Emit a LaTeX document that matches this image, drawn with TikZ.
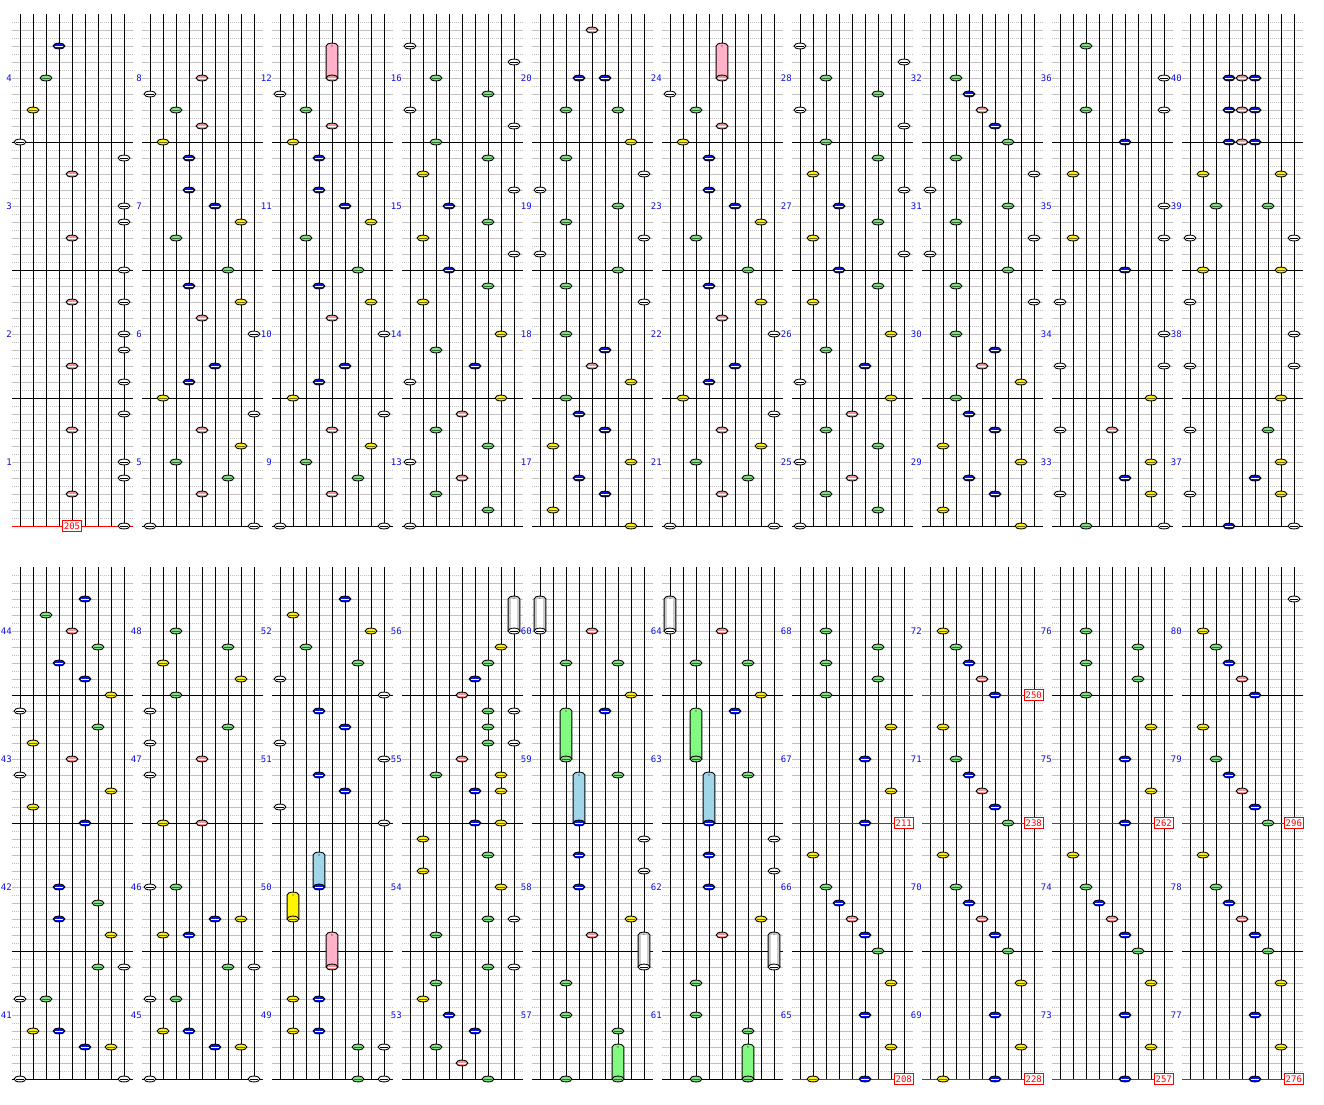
\documentclass[tikz,border=0pt]{standalone}
\usepackage{fontspec}
\newfontfamily\pixfont{DejaVu Sans Mono}
\definecolor{gl}{RGB}{192,192,192}
\definecolor{ny}{RGB}{255,240,0}
\definecolor{nys}{RGB}{110,100,0}
\definecolor{ng}{RGB}{130,225,130}
\definecolor{ngs}{RGB}{40,110,40}
\definecolor{nb}{RGB}{0,20,235}
\definecolor{nr}{RGB}{245,150,150}
\definecolor{lpink}{RGB}{255,178,200}
\definecolor{lgreen}{RGB}{130,250,130}
\definecolor{lblue}{RGB}{160,214,232}
\definecolor{lyel}{RGB}{255,245,0}
\definecolor{lgray}{RGB}{205,205,205}
\definecolor{labblue}{RGB}{10,10,235}
\tikzset{
  gdot/.style={draw=gl,line width=1pt,dash pattern=on 1pt off 1pt},
  gsol/.style={draw=gl,line width=1pt},
  mline/.style={draw=black,line width=1pt},
  laneline/.style={draw=black,line width=1pt},
  mlab/.style={anchor=east,inner sep=0pt,text=labblue,font=\pixfont\fontsize{9}{9}\selectfont},
  bpmline/.style={draw=red,line width=1pt},
  bpmbox/.style={draw=red,fill=white,line width=1pt,text=red,inner xsep=1.6pt,inner ysep=1.8pt,
     text height=6.6pt,text depth=0pt,font=\pixfont\fontsize{9}{9}\selectfont},
}
\def\PK{0}\def\RO{0}
\def\nt#1#2#3#4{%
  \path[fill=#1,draw=black,line width=0.9pt] (20+130*\PK+13*#3, \RO+526-8*#4) ellipse [x radius=5.9pt, y radius=2.9pt];
  \draw[#2,line width=0.8pt] (20+130*\PK+13*#3-3.6, \RO+526-8*#4) -- ++(7.2,0);}
\def\Wn#1#2{\nt{white}{black}{#1}{#2}}
\def\Yn#1#2{\nt{ny}{nys}{#1}{#2}}
\def\Gn#1#2{\nt{ng}{ngs}{#1}{#2}}
\def\Bn#1#2{\nt{nb}{white}{#1}{#2}}
\def\Rn#1#2{\nt{nr}{white}{#1}{#2}}
% long note: body colour, lane, head p, tail p
\def\LN#1#2#3#4{%
  \filldraw[fill=#1,line width=0.9pt] (20+130*\PK+13*#2-5.9, \RO+526-8*#3) -- (20+130*\PK+13*#2-5.9, \RO+526-8*#4)
     arc[start angle=180,end angle=0,x radius=5.9pt,y radius=2.9pt] -- (20+130*\PK+13*#2+5.9, \RO+526-8*#3) -- cycle;
  \fill[black] (20+130*\PK+13*#2, \RO+526-8*#4) circle (0.6pt);}
\def\LNW#1#2#3{%
  \LN{lgray}{#1}{#2}{#3}%
  \fill[white] (20+130*\PK+13*#1-3, \RO+526-8*#3) rectangle (20+130*\PK+13*#1+3, \RO+526-8*#2);}
\def\bpm#1{\draw[bpmline] (12+130*\PK, \RO+526-8*#1) -- ++(121,0);}
\def\bpmb#1#2{\node[bpmbox,anchor=east] (bpm#2) at (134+130*\PK, \RO+526-8*#1) {#2};}
\def\panelB{\Gn{2}{52}\Rn{4}{50}\Yn{1}{48}\Bn{3}{46}\Bn{3}{42}\Bn{5}{40}\Yn{7}{38}\Gn{2}{36}\Gn{6}{32}\Bn{3}{30}\Yn{7}{28}\Rn{4}{26}\Wn{8}{24}\Bn{5}{20}\Bn{3}{18}\Yn{1}{16}\Wn{8}{14}\Rn{4}{12}\Yn{7}{10}\Gn{2}{8}\Gn{6}{6}\Rn{4}{4}\Wn{0}{0}\Wn{8}{0}}
\def\panelC{\Wn{0}{60}\Wn{8}{58}\Gn{2}{56}\Gn{6}{54}\Wn{0}{52}\Wn{8}{50}\Gn{2}{48}\Gn{6}{46}\Yn{1}{44}\Wn{8}{42}\Bn{3}{40}\Gn{6}{38}\Yn{1}{36}\Wn{8}{34}\Bn{3}{32}\Gn{6}{30}\Yn{1}{28}\Yn{7}{24}\Gn{2}{22}\Bn{5}{20}\Wn{0}{18}\Yn{7}{16}\Rn{4}{14}\Gn{2}{12}\Gn{6}{10}\Wn{0}{8}\Rn{4}{6}\Gn{2}{4}\Gn{6}{2}\Wn{0}{0}}
\def\panelLow{\Gn{2}{24}\Bn{5}{22}\Rn{4}{20}\Yn{7}{18}\Gn{2}{16}\Bn{3}{14}\Bn{5}{12}\Yn{1}{10}\Yn{7}{8}\Bn{3}{6}\Bn{5}{4}\Yn{1}{2}\Yn{7}{0}}
\def\panelUp{\Gn{2}{46}\Wn{8}{44}\Wn{0}{42}\Gn{6}{40}\Gn{2}{38}\Wn{8}{36}\Wn{0}{34}\Gn{6}{32}\Gn{2}{30}\Wn{8}{28}}
\def\panelG{\LNW{0}{56}{60}\Rn{4}{56}\Gn{2}{52}\Gn{6}{52}\Yn{7}{48}\Bn{5}{46}\LN{lgreen}{2}{40}{46}\Gn{2}{40}\LN{lblue}{3}{32}{38}\Bn{3}{32}\Gn{6}{38}\Wn{8}{30}\Bn{3}{28}\Wn{8}{26}\Bn{3}{24}\Yn{7}{20}\Rn{4}{18}\LNW{8}{14}{18}\Wn{8}{14}\Gn{2}{12}\Gn{2}{8}\Gn{6}{6}\LN{lgreen}{6}{0}{4}\Gn{6}{0}\Gn{2}{0}\Wn{0}{56}}
\def\panelS{\Yn{1}{28}\Gn{2}{24}\Bn{3}{22}\Rn{4}{20}\Bn{5}{18}\Gn{6}{16}\Yn{7}{12}\Bn{5}{8}\Yn{7}{4}\Bn{5}{0}}
\begin{document}
\begin{tikzpicture}[x=1pt,y=-1pt]
\useasboundingbox (0,0) rectangle (1324,1104);
\fill[white] (0,0) rectangle (1324,1104);
% grid
\foreach \ro in {0,553}{
  \foreach \k in {0,...,9}{
    \foreach \p in {1,3,...,63}{\draw[gdot] (12+130*\k, \ro+526-8*\p) -- ++(121,0);}
    \foreach \p in {2,4,...,62}{\draw[gsol] (12+130*\k, \ro+526-8*\p) -- ++(121,0);}
    \foreach \p in {0,16,32,48}{\draw[mline] (12+130*\k, \ro+526-8*\p) -- ++(121,0);}
    \foreach \i in {0,...,8}{\draw[laneline] (20+130*\k+13*\i, \ro+14) -- (20+130*\k+13*\i, \ro+526);}
  }
}
% measure numbers
\foreach \ro/\rb in {0/0,553/40}{
  \foreach \k in {0,...,9}{
    \foreach \j in {0,...,3}{
      \pgfmathtruncatemacro\mm{\rb+4*\k+\j+1}
      \node[mlab] (m\mm) at (12+130*\k, \ro+462-128*\j) {\mm};
    }
  }
}
% ---------- top row ----------
\def\RO{0}
\def\PK{0}
\draw[bpmline] (12,526) -- (133,526);
\Bn{3}{60}\Gn{2}{56}\Yn{1}{52}\Wn{0}{48}\Wn{8}{46}\Rn{4}{44}\Wn{8}{40}\Wn{8}{38}\Rn{4}{36}\Wn{8}{32}\Rn{4}{28}\Wn{8}{28}\Wn{8}{24}\Wn{8}{22}\Rn{4}{20}\Wn{8}{18}\Wn{8}{14}\Rn{4}{12}\Wn{8}{8}\Wn{8}{6}\Rn{4}{4}\Wn{8}{0}
\node[bpmbox] (bpm205) at (72,526) {205};
\def\PK{1}
\Rn{4}{56}\Wn{0}{54}\panelB
\def\PK{2}
\LN{lpink}{4}{56}{60}\Rn{4}{56}\Wn{0}{54}\panelB
\def\PK{3}
\panelC
\def\PK{4}
\Rn{4}{62}\Bn{3}{56}\Bn{5}{56}\Gn{2}{52}\Gn{6}{52}\Yn{7}{48}\panelUp\panelLow
\def\PK{5}
\LN{lpink}{4}{56}{60}\Rn{4}{56}\Wn{0}{54}\panelB
\def\PK{6}
\panelC
\def\PK{7}
\Gn{2}{56}\Bn{3}{54}\Rn{4}{52}\Bn{5}{50}\Gn{6}{48}\panelUp\panelLow
\def\PK{8}
\Gn{2}{60}\Wn{8}{56}\Gn{2}{52}\Wn{8}{52}\Bn{5}{48}\Yn{1}{44}\Wn{8}{40}\Yn{1}{36}\Wn{8}{36}\Bn{5}{32}\Wn{0}{28}\Wn{8}{24}\Wn{0}{20}\Wn{8}{20}\Yn{7}{16}\Wn{0}{12}\Rn{4}{12}\Yn{7}{8}\Bn{5}{6}\Wn{0}{4}\Yn{7}{4}\Gn{2}{0}\Wn{8}{0}
\def\PK{9}
\Bn{3}{56}\Rn{4}{56}\Bn{5}{56}\Bn{3}{52}\Rn{4}{52}\Bn{5}{52}\Bn{3}{48}\Rn{4}{48}\Bn{5}{48}\Yn{1}{44}\Yn{7}{44}\Gn{2}{40}\Gn{6}{40}\Wn{0}{36}\Wn{8}{36}\Yn{1}{32}\Yn{7}{32}\Wn{0}{28}\Wn{8}{24}\Wn{0}{20}\Wn{8}{20}\Yn{7}{16}\Wn{0}{12}\Gn{6}{12}\Yn{7}{8}\Bn{5}{6}\Wn{0}{4}\Yn{7}{4}\Bn{3}{0}\Wn{8}{0}
% ---------- bottom row ----------
\def\RO{553}
\def\PK{0}
\Bn{5}{60}\Gn{2}{58}\Rn{4}{56}\Gn{6}{54}\Bn{3}{52}\Bn{5}{50}\Yn{7}{48}\Wn{0}{46}\Gn{6}{44}\Yn{1}{42}\Rn{4}{40}\Wn{0}{38}\Yn{7}{36}\Yn{1}{34}\Bn{5}{32}\Bn{3}{24}\Gn{6}{22}\Bn{3}{20}\Yn{7}{18}\Gn{6}{14}\Wn{8}{14}\Wn{0}{10}\Gn{2}{10}\Yn{1}{6}\Bn{3}{6}\Bn{5}{4}\Yn{7}{4}\Wn{0}{0}\Wn{8}{0}
\def\PK{1}
\Gn{2}{56}\Gn{6}{54}\Yn{1}{52}\Yn{7}{50}\Gn{2}{48}\Wn{0}{46}\Gn{6}{44}\Wn{0}{42}\Rn{4}{40}\Wn{0}{38}\Yn{1}{32}\Rn{4}{32}\Wn{0}{24}\Gn{2}{24}\Bn{5}{20}\Yn{7}{20}\Yn{1}{18}\Bn{3}{18}\Gn{6}{14}\Wn{8}{14}\Wn{0}{10}\Gn{2}{10}\Yn{1}{6}\Bn{3}{6}\Bn{5}{4}\Yn{7}{4}\Wn{0}{0}\Wn{8}{0}
\def\PK{2}
\Bn{5}{60}\Yn{1}{58}\Yn{7}{56}\Gn{2}{54}\Gn{6}{52}\Wn{0}{50}\Wn{8}{48}\Bn{3}{46}\Bn{5}{44}\Wn{0}{42}\Wn{8}{40}\Bn{3}{38}\Bn{5}{36}\Wn{0}{34}\Wn{8}{32}
\LN{lblue}{3}{24}{28}\Bn{3}{24}\LN{lyel}{1}{20}{23}\Yn{1}{20}\LN{lpink}{4}{14}{18}\Rn{4}{14}
\Yn{1}{10}\Bn{3}{10}\Yn{1}{6}\Bn{3}{6}\Gn{6}{4}\Wn{8}{4}\Gn{6}{0}\Wn{8}{0}
\def\PK{3}
\LNW{8}{56}{60}\Wn{8}{56}\Yn{7}{54}\Gn{6}{52}\Bn{5}{50}\Rn{4}{48}\Gn{6}{46}\Wn{8}{46}\Gn{6}{44}\Gn{6}{42}\Wn{8}{42}\Rn{4}{40}\Gn{2}{38}\Yn{7}{38}\Bn{5}{36}\Yn{7}{36}\Bn{5}{32}\Yn{7}{32}\Yn{1}{30}\Gn{6}{28}\Yn{1}{26}\Yn{7}{24}\Gn{6}{20}\Wn{8}{20}\Gn{2}{18}\Gn{6}{14}\Wn{8}{14}\Gn{2}{12}\Yn{1}{10}\Bn{3}{8}\Bn{5}{6}\Gn{2}{4}\Rn{4}{2}\Gn{6}{0}
\def\PK{4}
\panelG
\def\PK{5}
\panelG
\def\PK{6}
\bpm{32}\bpm{0}
\Gn{2}{56}\Gn{6}{54}\Gn{2}{52}\Gn{6}{50}\Gn{2}{48}\Yn{7}{44}\Bn{5}{40}\Yn{7}{36}\Bn{5}{32}\panelS\Yn{1}{0}
\bpmb{32}{211}\bpmb{0}{208}
\def\PK{7}
\bpm{48}\bpm{32}\bpm{0}
\Yn{1}{56}\Gn{2}{54}\Bn{3}{52}\Rn{4}{50}\Bn{5}{48}\Yn{1}{44}\Gn{2}{40}\Bn{3}{38}\Rn{4}{36}\Bn{5}{34}\Gn{6}{32}\panelS\Yn{1}{0}
\bpmb{48}{250}\bpmb{32}{238}\bpmb{0}{228}
\def\PK{8}
\bpm{32}\bpm{0}
\Gn{2}{56}\Gn{6}{54}\Gn{2}{52}\Gn{6}{50}\Gn{2}{48}\Yn{7}{44}\Bn{5}{40}\Yn{7}{36}\Bn{5}{32}\panelS
\bpmb{32}{262}\bpmb{0}{257}
\def\PK{9}
\bpm{32}\bpm{0}
\Wn{8}{60}\Yn{1}{56}\Gn{2}{54}\Bn{3}{52}\Rn{4}{50}\Bn{5}{48}\Yn{1}{44}\Gn{2}{40}\Bn{3}{38}\Rn{4}{36}\Bn{5}{34}\Gn{6}{32}\panelS
\bpmb{32}{296}\bpmb{0}{276}
\end{tikzpicture}
\end{document}
